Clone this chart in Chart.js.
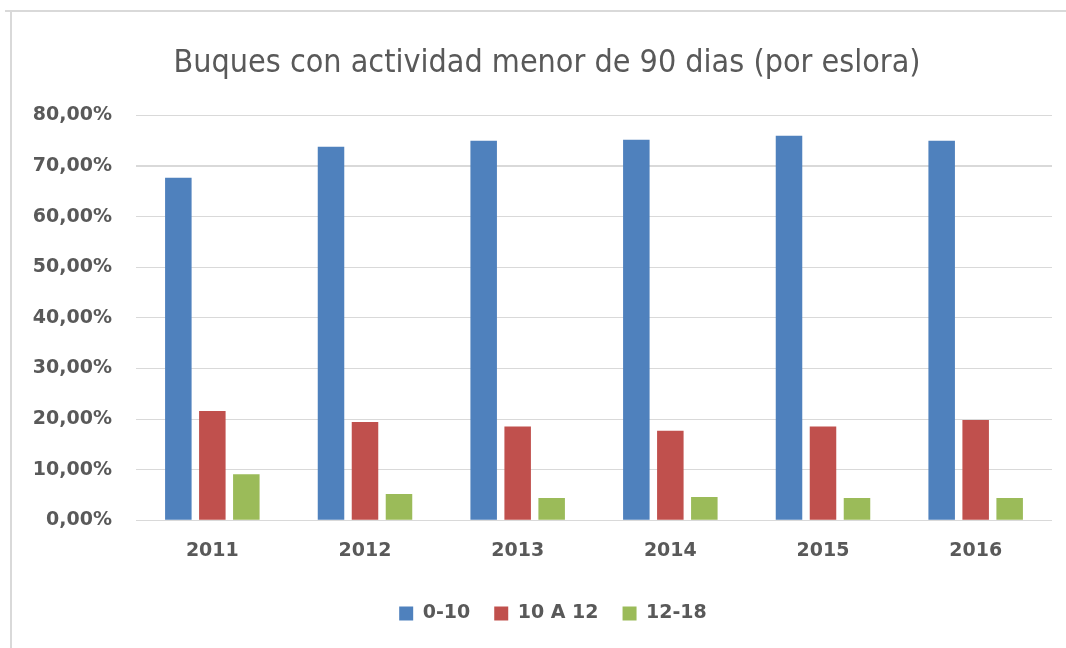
<!DOCTYPE html>
<html>
<head>
<meta charset="utf-8">
<script src="https://cdn.jsdelivr.net/npm/chart.js@4/dist/chart.umd.min.js"></script>
<style>
  html, body { margin: 0; padding: 0; background: #fff; overflow: hidden; width: 1066px; height: 648px; }
  .edge { position: absolute; background: #d9d9d9; }
  #edgeTop { left: 5px; top: 10px; width: 1061px; height: 2px; }
  #edgeLeft { left: 10px; top: 10px; width: 2px; height: 638px; }
  #box { position: absolute; left: 12px; top: 12px; width: 1073px; height: 636px; }
</style>
</head>
<body>
<div class="edge" id="edgeTop"></div>
<div class="edge" id="edgeLeft"></div>
<div id="box"><canvas id="chart" width="1073" height="636"></canvas></div>
<script>
const years = ["2011", "2012", "2013", "2014", "2015", "2016"];
const seriesNames = ["0-10", "10 A 12", "12-18"];
const eslora0a10 = [67.7, 73.8, 75.0, 75.2, 76.0, 75.0];
const eslora10a12 = [21.6, 19.4, 18.5, 17.7, 18.5, 19.8];
const eslora12a18 = [9.1, 5.2, 4.4, 4.6, 4.4, 4.4];
const yTicks = [0, 10, 20, 30, 40, 50, 60, 70, 80];

const gray = "#595959";
const labelFont = { family: "DejaVu Sans", size: 19, weight: "bold" };

function pct(v) {
  return v.toFixed(2).replace(".", ",") + "%";
}

// the original frame is wider than the window, so title and legend sit a bit right of centre
const nudgeBlocks = {
  id: "nudgeBlocks",
  afterLayout(chart) {
    if (chart.titleBlock) chart.titleBlock.left += 30;
    if (chart.legend) chart.legend.left += 42;
  },
};

const ctx = document.getElementById("chart").getContext("2d");

new Chart(ctx, {
  type: "bar",
  data: {
    labels: years,
    datasets: [
      { label: seriesNames[0], data: eslora0a10, backgroundColor: "#4F81BD" },
      { label: seriesNames[1], data: eslora10a12, backgroundColor: "#C0504D" },
      { label: seriesNames[2], data: eslora12a18, backgroundColor: "#9BBB59" },
    ],
  },
  plugins: [nudgeBlocks],
  options: {
    responsive: false,
    animation: false,
    layout: { padding: { top: 0, right: 33, bottom: 15, left: 0 } },
    datasets: {
      bar: { categoryPercentage: 0.668, barPercentage: 0.78 },
    },
    scales: {
      x: {
        grid: { display: false },
        border: { display: false },
        ticks: { color: gray, font: labelFont, padding: 11 },
        afterFit: (scale) => {
          scale.height += 7;
        },
      },
      y: {
        min: 0,
        max: 80,
        afterBuildTicks: (scale) => {
          scale.ticks = yTicks.map((v) => ({ value: v }));
        },
        afterFit: (scale) => {
          scale.width = 124;
        },
        border: { display: false },
        grid: {
          color: "#d9d9d9",
          drawTicks: false,
          lineWidth: (c) => (c.tick && c.tick.value === 70 ? 2 : 1),
        },
        ticks: {
          color: gray,
          font: labelFont,
          padding: 24,
          callback: (v) => pct(v),
        },
      },
    },
    plugins: {
      title: {
        display: true,
        text: "Buques con actividad menor de 90 dias (por eslora)",
        color: gray,
        font: { family: "DejaVu Sans Condensed", size: 32, weight: "normal" },
        padding: { top: 32, bottom: 33 },
      },
      legend: {
        position: "bottom",
        labels: {
          color: gray,
          font: labelFont,
          boxWidth: 14,
          boxHeight: 14,
          padding: 24,
        },
      },
      tooltip: { enabled: false },
    },
  },
});
</script>
</body>
</html>
